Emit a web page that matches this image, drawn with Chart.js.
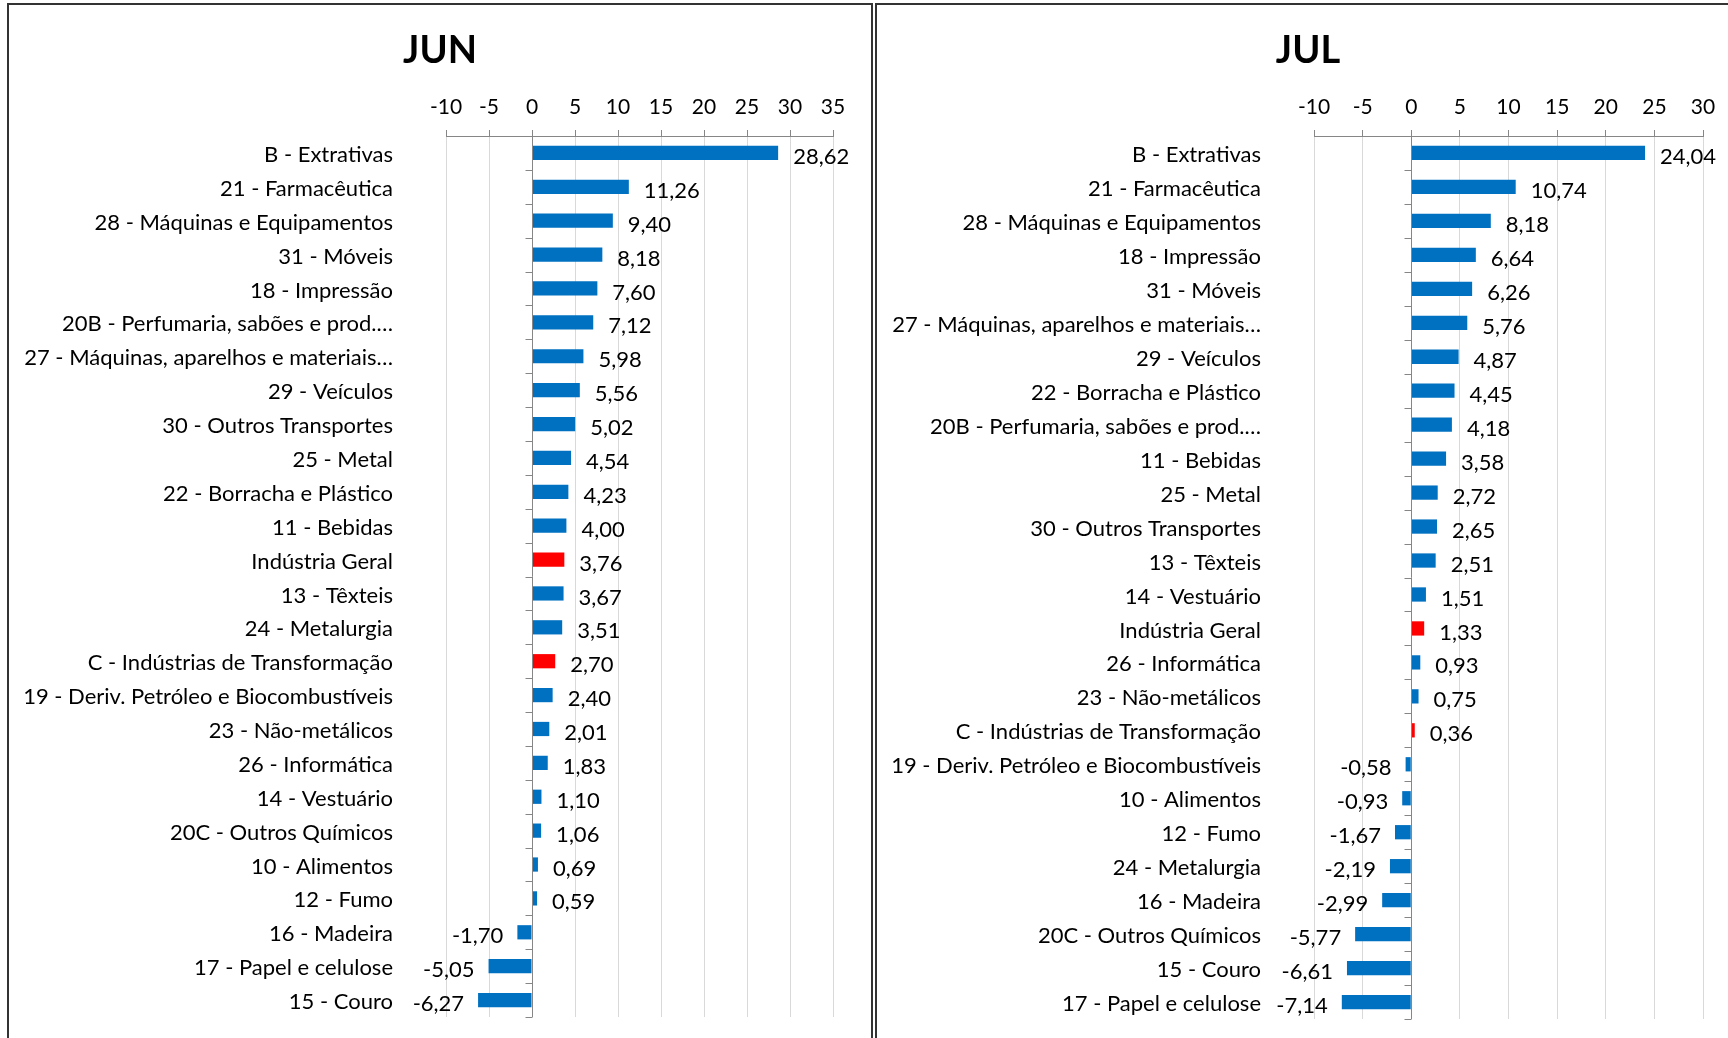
<!DOCTYPE html>
<html>
<head>
<meta charset="utf-8">
<script src="https://cdn.jsdelivr.net/npm/chart.js@4.4.0/dist/chart.umd.min.js"></script>
<style>
  html, body { margin: 0; padding: 0; background: #fff; }
  body { width: 1728px; height: 1038px; overflow: hidden; position: relative; }
  .panel { position: absolute; top: 3px; height: 1100px; border: 2px solid #333; border-bottom: none; background: #fff; }
  #left { left: 7px; width: 862px; }
  #right { left: 875px; width: 900px; }
  canvas { position: absolute; left: 0; top: 0; }
</style>
</head>
<body>
<div class="panel" id="left"><canvas id="chartJun" width="862" height="1040"></canvas></div>
<div class="panel" id="right"><canvas id="chartJul" width="851" height="1040"></canvas></div>
<script>
// dados: variação (%) por atividade
const junLabels = [
  'B - Extrativas', '21 - Farmacêutica', '28 - Máquinas e Equipamentos', '31 - Móveis',
  '18 - Impressão', '20B - Perfumaria, sabões e prod.…', '27 - Máquinas, aparelhos e materiais…',
  '29 - Veículos', '30 - Outros Transportes', '25 - Metal', '22 - Borracha e Plástico',
  '11 - Bebidas', 'Indústria Geral', '13 - Têxteis', '24 - Metalurgia',
  'C - Indústrias de Transformação', '19 - Deriv. Petróleo e Biocombustíveis',
  '23 - Não-metálicos', '26 - Informática', '14 - Vestuário', '20C - Outros Químicos',
  '10 - Alimentos', '12 - Fumo', '16 - Madeira', '17 - Papel e celulose', '15 - Couro'
];
const junValues = [28.62, 11.26, 9.40, 8.18, 7.60, 7.12, 5.98, 5.56, 5.02, 4.54, 4.23, 4.00, 3.76,
  3.67, 3.51, 2.70, 2.40, 2.01, 1.83, 1.10, 1.06, 0.69, 0.59, -1.70, -5.05, -6.27];

const julLabels = [
  'B - Extrativas', '21 - Farmacêutica', '28 - Máquinas e Equipamentos', '18 - Impressão',
  '31 - Móveis', '27 - Máquinas, aparelhos e materiais…', '29 - Veículos',
  '22 - Borracha e Plástico', '20B - Perfumaria, sabões e prod.…', '11 - Bebidas',
  '25 - Metal', '30 - Outros Transportes', '13 - Têxteis', '14 - Vestuário', 'Indústria Geral',
  '26 - Informática', '23 - Não-metálicos', 'C - Indústrias de Transformação',
  '19 - Deriv. Petróleo e Biocombustíveis', '10 - Alimentos', '12 - Fumo', '24 - Metalurgia',
  '16 - Madeira', '20C - Outros Químicos', '15 - Couro', '17 - Papel e celulose'
];
const julValues = [24.04, 10.74, 8.18, 6.64, 6.26, 5.76, 4.87, 4.45, 4.18, 3.58, 2.72, 2.65, 2.51,
  1.51, 1.33, 0.93, 0.75, 0.36, -0.58, -0.93, -1.67, -2.19, -2.99, -5.77, -6.61, -7.14];

const junTicks = { min: -10, max: 35 };
const julTicks = { min: -10, max: 30 };

const highlight = ['Indústria Geral', 'C - Indústrias de Transformação'];

const FONT = 'Lato, "Open Sans", sans-serif';
Chart.defaults.font.family = FONT;
Chart.defaults.color = '#000';

// título centrado no painel (não na área do gráfico)
const panelTitle = {
  id: 'panelTitle',
  afterDraw(chart, args, opts) {
    const ctx = chart.ctx;
    ctx.save();
    ctx.font = 'bold 38px ' + FONT;
    ctx.fillStyle = '#000';
    ctx.textAlign = 'center';
    ctx.textBaseline = 'middle';
    ctx.fillText(opts.text, opts.x, opts.y);
    ctx.restore();
  }
};

// rótulos de valor com vírgula decimal
const valueLabels = {
  id: 'valueLabels',
  afterDatasetsDraw(chart) {
    const ctx = chart.ctx;
    const meta = chart.getDatasetMeta(0);
    const data = chart.data.datasets[0].data;
    ctx.save();
    ctx.font = '22px ' + FONT;
    ctx.fillStyle = '#000';
    ctx.textBaseline = 'middle';
    meta.data.forEach((bar, i) => {
      const v = data[i];
      const txt = v.toFixed(2).replace('.', ',');
      if (v >= 0) {
        ctx.textAlign = 'left';
        ctx.fillText(txt, bar.x + 15, bar.y + 4);
      } else {
        ctx.textAlign = 'right';
        ctx.fillText(txt, bar.x - 14, bar.y + 4);
      }
    });
    ctx.restore();
  }
};

// eixo vertical no zero com marcas entre categorias
const zeroAxis = {
  id: 'zeroAxis',
  afterDatasetsDraw(chart) {
    const ctx = chart.ctx;
    const x = Math.round(chart.scales.x.getPixelForValue(0)) + 0.5;
    const ys = chart.scales.y;
    const area = chart.chartArea;
    ctx.save();
    ctx.strokeStyle = '#868686';
    ctx.lineWidth = 1;
    ctx.beginPath();
    ctx.moveTo(x, area.top);
    ctx.lineTo(x, area.bottom);
    for (let i = 0; i <= chart.data.labels.length; i++) {
      const y = Math.round(ys.getPixelForValue(i - 0.5)) + 0.5;
      ctx.moveTo(x - 7, y);
      ctx.lineTo(x, y);
    }
    ctx.stroke();
    ctx.restore();
  }
};

function makeChart(id, title, labels, values, ticks, canvasW, areaRight, areaBottom) {
  const ctx = document.getElementById(id).getContext('2d');
  return new Chart(ctx, {
    type: 'bar',
    data: {
      labels: labels,
      datasets: [{
        data: values,
        backgroundColor: labels.map(l => highlight.includes(l) ? '#FF0000' : '#0070C0'),
        barPercentage: 0.42,
        categoryPercentage: 1
      }]
    },
    options: {
      indexAxis: 'y',
      responsive: false,
      animation: false,
      layout: { padding: { left: 0, top: 68, right: canvasW - areaRight, bottom: 1040 - areaBottom } },
      plugins: {
        legend: { display: false },
        tooltip: { enabled: false },
        title: { display: false },
        panelTitle: { text: title, x: 431, y: 46 }
      },
      scales: {
        x: {
          position: 'top',
          min: ticks.min,
          max: ticks.max,
          ticks: { stepSize: 5, font: { size: 21 }, padding: 10, color: '#000' },
          grid: { color: '#d9d9d9', tickColor: '#868686', tickLength: 6 },
          border: { display: true, color: '#868686' },
          afterFit(scale) { scale.height = 63; }
        },
        y: {
          ticks: { autoSkip: false, font: { size: 22 }, padding: 45, labelOffset: 2, color: '#000' },
          grid: { display: false },
          border: { display: false },
          afterFit(scale) {
            scale.width = 437;
            scale.paddingTop = 0;
            scale.paddingBottom = 0;
          }
        }
      }
    },
    plugins: [panelTitle, valueLabels, zeroAxis]
  });
}

makeChart('chartJun', 'JUN', junLabels, junValues, junTicks, 862, 824, 1012);
makeChart('chartJul', 'JUL', julLabels, julValues, julTicks, 851, 826, 1014);
</script>
</body>
</html>
